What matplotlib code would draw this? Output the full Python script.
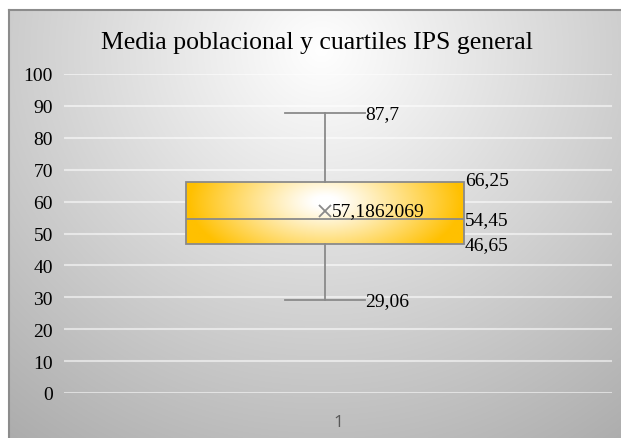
import numpy as np
import matplotlib.pyplot as plt

title = "Media poblacional y cuartiles IPS general"
category = ["1"]
minimum = [29.06]
q1 = [46.65]
median = [54.45]
q3 = [66.25]
maximum = [87.7]
mean = [57.1862069]
min_label = ["29,06"]
q1_label = ["46,65"]
median_label = ["54,45"]
q3_label = ["66,25"]
max_label = ["87,7"]
mean_label = ["57,1862069"]
y_ticks = list(range(0, 101, 10))

W, H = 621, 439
fig = plt.figure(figsize=(W / 100, H / 100), dpi=100)
fig.patch.set_facecolor('white')

# background panel with radial gradient
pw, ph = W - 9, H - 11
bg = fig.add_axes([9 / W, 0, pw / W, ph / H])
yy, xx = np.mgrid[0:ph, 0:pw]
cx, cy = 312, 40
d = np.sqrt(((xx - cx) * 0.95) ** 2 + (yy - cy) ** 2)
g = np.clip(255 - 0.17 * d, 165, 255) / 255
bg.imshow(np.dstack([g, g, g]), aspect='auto', extent=[0, 1, 0, 1], origin='upper')
bg.set_xticks([]); bg.set_yticks([])
for s in ['right', 'bottom']:
    bg.spines[s].set_visible(False)
for s in ['top', 'left']:
    bg.spines[s].set_color('#8c8c8c')
    bg.spines[s].set_linewidth(1.5)

serif = ['Liberation Serif', 'DejaVu Serif']

ax = fig.add_axes([64 / W, 45 / H, 548 / W, 319 / H])
ax.patch.set_alpha(0)
pos = 1 - 13 / 548
bw = 0.509
cw = 0.146

stats = [dict(med=median[0], q1=q1[0], q3=q3[0], whislo=minimum[0], whishi=maximum[0],
              mean=mean[0], label=category[0])]
res = ax.bxp(stats, positions=[pos], widths=bw, capwidths=[cw], showmeans=True, meanline=False,
             showfliers=False, patch_artist=True,
             boxprops=dict(facecolor='none', edgecolor='#8a8a8a', linewidth=1.3),
             medianprops=dict(color='#8a8a8a', linewidth=1.3),
             whiskerprops=dict(color='#8a8a8a', linewidth=1.3),
             capprops=dict(color='#8a8a8a', linewidth=1.3),
             meanprops=dict(marker='x', markeredgecolor='#8a8a8a', markersize=9, markeredgewidth=1.3),
             zorder=3)

# gradient fill for the box
nx, ny = 300, 80
u = np.linspace(-1, 1, nx)[None, :]
v = np.linspace(1, -1, ny)[:, None]
t = np.sqrt(u ** 2 + (0.45 * (v - 0.35)) ** 2)
t = np.clip((t - 0.08) / 0.9, 0, 1) ** 1.1
gold = np.array([255, 192, 0]) / 255
white = np.array([1.0, 1.0, 1.0])
img = white[None, None, :] * (1 - t[..., None]) + gold[None, None, :] * t[..., None]
im = ax.imshow(img, extent=[pos - bw / 2, pos + bw / 2, q1[0], q3[0]], aspect='auto',
               zorder=2.5, interpolation='bilinear')
im.set_clip_path(res['boxes'][0])

ax.set_xlim(0.5, 1.5)
ax.set_ylim(0, 100)
ax.set_yticks(y_ticks)
ax.set_yticklabels([str(v) for v in y_ticks], fontfamily=serif, fontsize=14)
ax.set_xticks([1])
ax.set_xticklabels(category, fontfamily=['Open Sans', 'DejaVu Sans'], fontsize=12.5, color='#595959')
ax.tick_params(axis='y', length=0, pad=8)
ax.tick_params(axis='x', length=0, pad=15)
for s in ax.spines.values():
    s.set_visible(False)
ax.yaxis.grid(True, color='white', linewidth=1.5, alpha=0.55, zorder=0)
ax.set_axisbelow(True)

lab_kw = dict(fontfamily=serif, fontsize=14, va='center', ha='left', color='black', zorder=5)
ax.text(pos + cw / 2 + 0.001, maximum[0], max_label[0], **lab_kw)
ax.text(pos + cw / 2 + 0.001, minimum[0], min_label[0], **lab_kw)
ax.text(pos + bw / 2 + 0.001, q3[0] + 0.8, q3_label[0], **lab_kw)
ax.text(pos + bw / 2 + 0.001, median[0], median_label[0], **lab_kw)
ax.text(pos + bw / 2 + 0.001, q1[0], q1_label[0], **lab_kw)
ax.text(pos + 0.013, mean[0], mean_label[0], **lab_kw)

fig.text(317 / W, 1 - 43 / H, title, fontfamily=serif, fontsize=18.5, ha='center', va='center')

fig.savefig('out.png', dpi=100)
